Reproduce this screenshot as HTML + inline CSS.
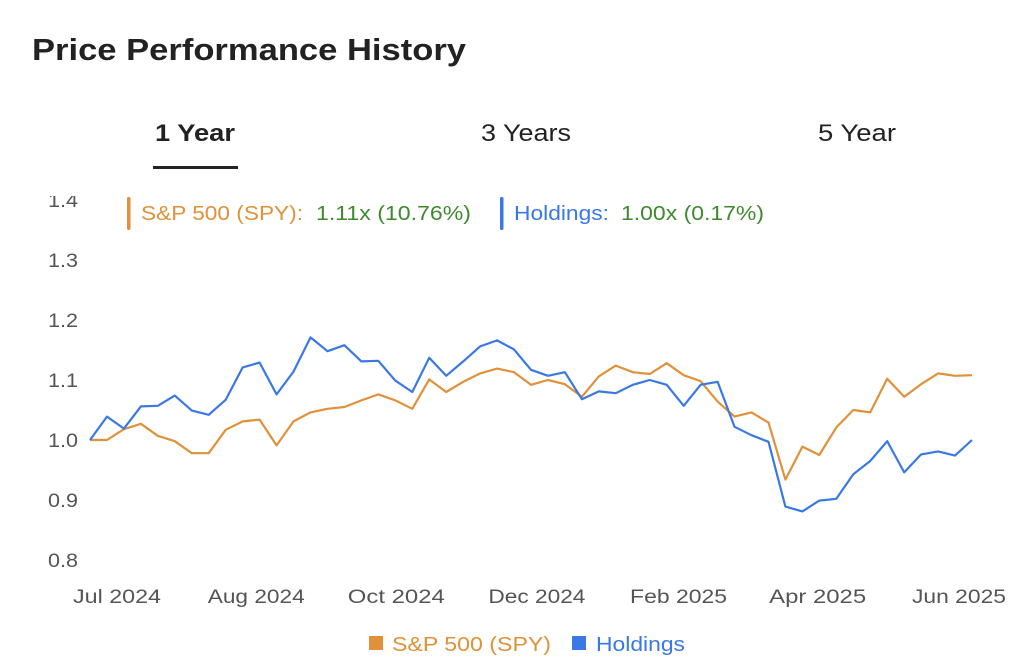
<!DOCTYPE html>
<html><head><meta charset="utf-8">
<style>
body{margin:0;background:#fff;width:1024px;height:669px;overflow:hidden;font-family:"Liberation Sans",Arial,sans-serif}
svg{position:absolute;left:0;top:0}
</style></head>
<body>
<svg width="1024" height="669">
  <text x="32" y="60" font-size="31" font-weight="bold" fill="#222" textLength="434" lengthAdjust="spacingAndGlyphs">Price Performance History</text>
  <text x="155" y="141" font-size="24" font-weight="bold" fill="#222" textLength="80" lengthAdjust="spacingAndGlyphs">1 Year</text>
  <rect x="153" y="166" width="85" height="3" fill="#222"/>
  <text x="481" y="141" font-size="24" fill="#222" textLength="90" lengthAdjust="spacingAndGlyphs">3 Years</text>
  <text x="818" y="141" font-size="24" fill="#222" textLength="78" lengthAdjust="spacingAndGlyphs">5 Year</text>
  <g id="yaxis"></g>
  <g id="xaxis"></g>
  <g id="series"></g>
  <rect x="0" y="172" width="1024" height="24" fill="#fff"/>
  <g>
    <rect x="127" y="197" width="3.5" height="33" rx="1.5" fill="#e0913a"/>
    <text x="141" y="220" font-size="20" fill="#e0913a" textLength="162" lengthAdjust="spacingAndGlyphs">S&amp;P 500 (SPY):</text>
    <text x="316" y="220" font-size="20" fill="#3f8a2e" textLength="155" lengthAdjust="spacingAndGlyphs">1.11x (10.76%)</text>
    <rect x="500" y="197" width="3.5" height="33" rx="1.5" fill="#3a78e6"/>
    <text x="514" y="220" font-size="20" fill="#3a78e6" textLength="95" lengthAdjust="spacingAndGlyphs">Holdings:</text>
    <text x="621" y="220" font-size="20" fill="#3f8a2e" textLength="143" lengthAdjust="spacingAndGlyphs">1.00x (0.17%)</text>
  </g>
  <g>
    <rect x="369" y="636" width="14" height="14" fill="#e0913a"/>
    <text x="392" y="651" font-size="20" fill="#e0913a" textLength="159" lengthAdjust="spacingAndGlyphs">S&amp;P 500 (SPY)</text>
    <rect x="572" y="636" width="14" height="14" fill="#3a78e6"/>
    <text x="596" y="651" font-size="20" fill="#3a78e6" textLength="89" lengthAdjust="spacingAndGlyphs">Holdings</text>
  </g>
</svg>
<script>
const yTicks=[0.8,0.9,1.0,1.1,1.2,1.3,1.4];
const yTickLabels=["0.8","0.9","1.0","1.1","1.2","1.3","1.4"];
const xTickLabels=["Jul 2024","Aug 2024","Oct 2024","Dec 2024","Feb 2025","Apr 2025","Jun 2025"];
const xTickIndex=[0,9.8,18.06,26.35,34.7,42.9,52];
const spyValues=[1.0,1.0,1.018,1.027,1.007,0.998,0.978,0.978,1.017,1.031,1.034,0.991,1.031,1.046,1.052,1.055,1.066,1.076,1.066,1.052,1.101,1.080,1.097,1.111,1.119,1.113,1.092,1.1,1.093,1.072,1.106,1.124,1.113,1.110,1.128,1.108,1.098,1.064,1.039,1.046,1.029,0.934,0.989,0.975,1.021,1.05,1.046,1.102,1.072,1.093,1.111,1.107,1.108];
const holdingsValues=[1.0,1.039,1.019,1.056,1.057,1.074,1.049,1.042,1.067,1.121,1.129,1.076,1.114,1.171,1.148,1.158,1.131,1.132,1.099,1.080,1.137,1.107,1.131,1.156,1.166,1.151,1.117,1.107,1.113,1.068,1.081,1.078,1.092,1.100,1.092,1.057,1.092,1.097,1.022,1.008,0.997,0.889,0.881,0.899,0.902,0.943,0.965,0.998,0.946,0.976,0.981,0.974,1.0];

const NS="http://www.w3.org/2000/svg";
const n=spyValues.length;
function xScale(i){return 90+i*(972-90)/(n-1);}
function yScale(v){return 440-(v-1.0)*600;}

const ya=document.getElementById('yaxis');
yTicks.forEach((t,k)=>{
  const tx=document.createElementNS(NS,'text');
  
  
  tx.setAttribute('x',48);tx.setAttribute('y',yScale(t)+7);
  tx.setAttribute('font-size','19');tx.setAttribute('fill','#555');
  tx.setAttribute('textLength','30');tx.setAttribute('lengthAdjust','spacingAndGlyphs');
  tx.textContent=yTickLabels[k];ya.appendChild(tx);
});
const xa=document.getElementById('xaxis');
xTickLabels.forEach((l,k)=>{
  const tx=document.createElementNS(NS,'text');
  
  
  const w=(k===0?88:(k===xTickLabels.length-1?94:97));
  let x=xScale(xTickIndex[k])-w/2;
  if(k===0){x=73;}
  if(k===xTickLabels.length-1){x=1006-w;}
  tx.setAttribute('x',x);tx.setAttribute('y',603);
  tx.setAttribute('font-size','19');tx.setAttribute('fill','#555');
  tx.setAttribute('textLength',w);tx.setAttribute('lengthAdjust','spacingAndGlyphs');
  tx.textContent=l;xa.appendChild(tx);
});
const sg=document.getElementById('series');
function line(vals,color,name){
  const p=document.createElementNS(NS,'polyline');
  
  
  p.setAttribute('points',vals.map((v,i)=>xScale(i).toFixed(1)+','+yScale(v).toFixed(1)).join(' '));
  p.setAttribute('fill','none');p.setAttribute('stroke',color);p.setAttribute('stroke-width','2.2');
  p.setAttribute('stroke-linejoin','round');
  sg.appendChild(p);
}
line(spyValues,'#e0913a','spy-line');
line(holdingsValues,'#3a78e6','holdings-line');
</script>
</body></html>
